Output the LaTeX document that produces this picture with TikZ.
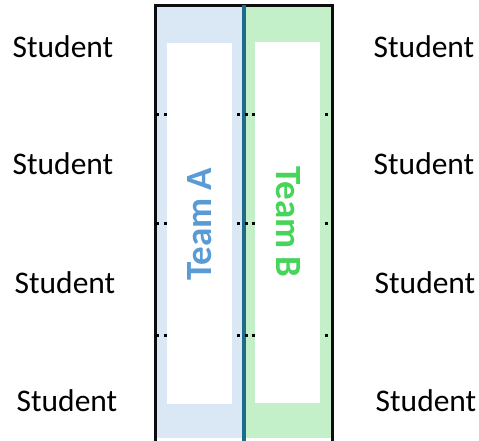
\documentclass[tikz,border=0pt]{standalone}
\usepackage{fontspec}
\setmainfont{Carlito}
\definecolor{paleblue}{HTML}{DAE8F6}
\definecolor{palegreen}{HTML}{C3F0C8}
\definecolor{teamblue}{HTML}{5B9BD5}
\definecolor{teamgreen}{HTML}{47D45A}
\definecolor{divider}{HTML}{1F6B8B}
\tikzset{
  student/.style={font=\fontsize{31.5}{33}\selectfont, inner sep=0pt, anchor=center},
  teamlabel/.style={font=\fontsize{37}{39}\selectfont\bfseries, inner sep=0pt},
  card/.style={fill=white, draw=none},
  seat/.style={fill=black, minimum size=3pt, inner sep=0pt, draw=none, rectangle},
}
\begin{document}
\begin{tikzpicture}[x=1pt, y=-1pt]
\useasboundingbox (0,0) rectangle (479,440);
% coloured halves
\fill[paleblue] (156,5) rectangle (244,438);
\fill[palegreen] (244,5) rectangle (332,438);
% white cards
\fill[card] (167,43) rectangle (232,404);
\fill[card] (255,42) rectangle (320,403);
% frame and centre divider
\draw[line width=3.2pt, black!95] (155.5,445) -- (155.5,5.5) -- (332.5,5.5) -- (332.5,445);
\draw[line width=3.5pt, divider] (244,5) -- (244,445);
% team labels
\node[teamlabel, text=teamblue, rotate=90] (ta) at (200,224) {Team A};
\node[teamlabel, text=teamgreen, rotate=-90] (tb) at (288,222) {Team B};
% seat markers
\foreach \yy [count=\r] in {114,223,335}{
  \foreach \xx [count=\c] in {157.5,165,238,246.5,253,326}{
    \node[seat] (s\r-\c) at (\xx,\yy) {};
  }
}
% students
\node[student] (l1) at (63,47) {Student};
\node[student] (l2) at (63,164) {Student};
\node[student] (l3) at (65,283) {Student};
\node[student] (l4) at (67,401) {Student};
\node[student] (r1) at (424,47) {Student};
\node[student] (r2) at (424,164) {Student};
\node[student] (r3) at (425,283) {Student};
\node[student] (r4) at (426,401) {Student};
\end{tikzpicture}
\end{document}
